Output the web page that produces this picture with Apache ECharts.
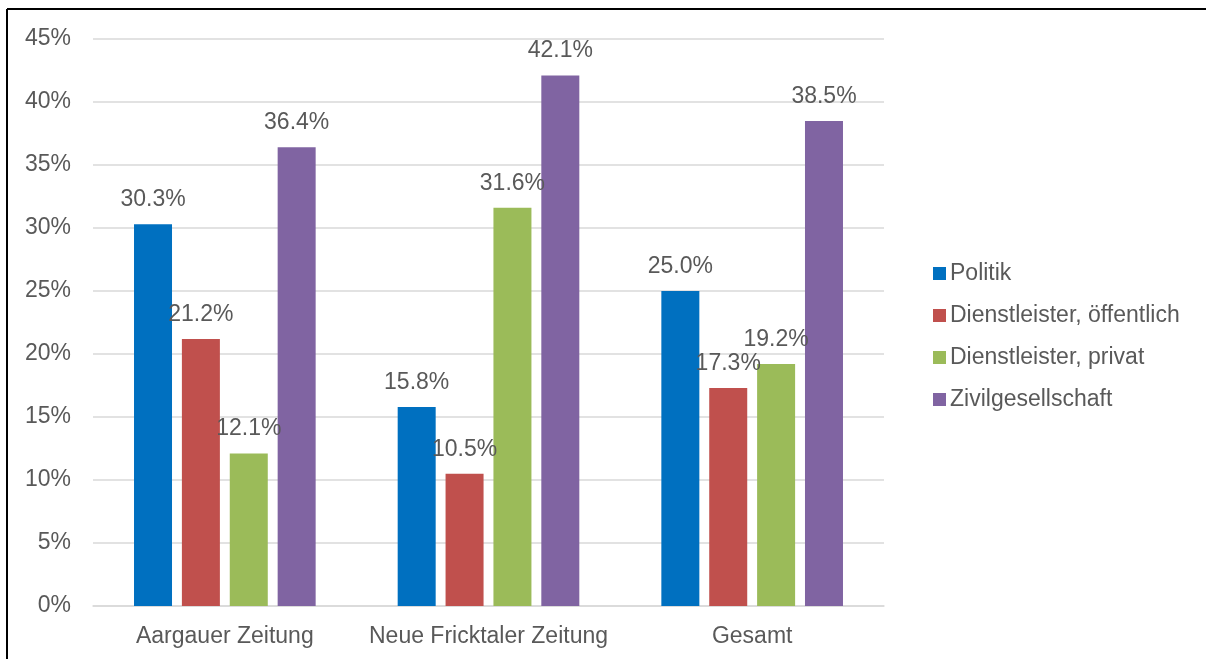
<!DOCTYPE html>
<html><head><meta charset="utf-8">
<script src="https://cdn.jsdelivr.net/npm/echarts@6/dist/echarts.min.js"></script>
<style>html,body{margin:0;padding:0;background:#fff}#c{width:1206px;height:659px}</style>
</head><body><div id="c"></div>
<script>
var categories = ['Aargauer Zeitung', 'Neue Fricktaler Zeitung', 'Gesamt'];
var seriesNames = ['Politik', 'Dienstleister, öffentlich', 'Dienstleister, privat', 'Zivilgesellschaft'];
var politik = [30.3, 15.8, 25.0];
var dlOeffentlich = [21.2, 10.5, 17.3];
var dlPrivat = [12.1, 31.6, 19.2];
var zivil = [36.4, 42.1, 38.5];
var colors = ['#0070C0', '#C0504D', '#9BBB59', '#8064A2'];
var yTicks = [0, 5, 10, 15, 20, 25, 30, 35, 40, 45];

var font = 'Liberation Sans, Arial, sans-serif';
var txt = '#595959';
var fs = 23;
var values = [politik, dlOeffentlich, dlPrivat, zivil];
var chart = echarts.init(document.getElementById('c'));
chart.setOption({
  animation: false,
  textStyle: {fontFamily: font},
  grid: {left: 93, right: 322, top: 39, bottom: 53, containLabel: false},
  legend: {
    orient: 'vertical', left: 928, top: 257,
    itemWidth: 13, itemHeight: 13, itemGap: 19,
    icon: 'rect',
    textStyle: {fontSize: fs, color: txt, fontFamily: font, padding: [0, 0, 0, -1]},
    data: seriesNames
  },
  xAxis: {
    type: 'category', data: categories,
    axisLine: {lineStyle: {color: '#d9d9d9', width: 1.5}},
    axisTick: {show: false},
    axisLabel: {fontSize: fs, color: txt, margin: 19, fontFamily: font, interval: 0}
  },
  yAxis: {
    type: 'value', min: 0, max: 45, interval: 5,
    axisLine: {show: false}, axisTick: {show: false},
    splitLine: {lineStyle: {color: '#d9d9d9', width: 1.5}},
    axisLabel: {fontSize: fs, color: txt, margin: 22, fontFamily: font,
      formatter: function (v) { return yTicks.indexOf(v) >= 0 ? v + '%' : ''; }}
  },
  series: seriesNames.map(function (n, i) {
    return {
      name: n, type: 'bar', data: values[i],
      barWidth: 38, barGap: '26%',
      itemStyle: {color: colors[i]},
      label: {show: true, position: 'top', distance: 13, fontSize: fs, color: txt, fontFamily: font,
        formatter: function (p) { return p.value.toFixed(1) + '%'; }}
    };
  }),
  graphic: [
    {type: 'line', shape: {x1: 7, y1: 9, x2: 1206, y2: 9}, style: {stroke: '#000', lineWidth: 2}},
    {type: 'line', shape: {x1: 7, y1: 9, x2: 7, y2: 659}, style: {stroke: '#000', lineWidth: 2}}
  ]
});
</script></body></html>
